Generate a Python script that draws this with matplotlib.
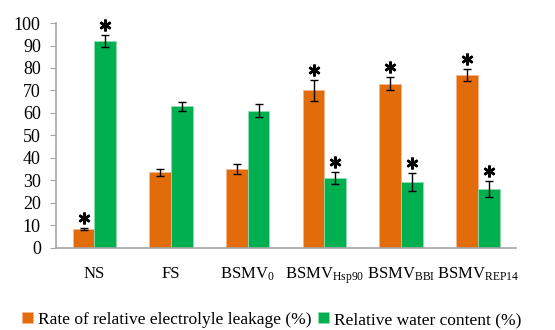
import numpy as np
import matplotlib
matplotlib.use("Agg")
import matplotlib.pyplot as plt
from matplotlib.transforms import offset_copy

plt.rcParams["font.family"] = "Liberation Serif"
plt.rcParams["mathtext.fontset"] = "custom"
plt.rcParams["mathtext.rm"] = "Liberation Serif"
plt.rcParams["mathtext.it"] = "Liberation Serif"

groups = ["NS", "FS", r"BSMV$_{\mathrm{0}}$", r"BSMV$_{\mathrm{Hsp90}}$",
          r"BSMV$_{\mathrm{BBI}}$", r"BSMV$_{\mathrm{REP14}}$"]
leakage = [8.3, 33.5, 35, 70, 73, 77]
leakage_err = [0.5, 1.5, 2.3, 4.7, 3.0, 2.7]
water = [92, 63, 61, 31, 29, 26]
water_err = [2.6, 2.0, 3.0, 2.8, 4.0, 3.5]
leakage_sig = [True, False, False, True, True, True]
water_sig = [True, False, False, True, True, True]

orange = "#E36C0A"
green = "#00B050"

fig = plt.figure(figsize=(5.55, 3.3), dpi=100)
ax = fig.add_axes([0.101, 0.25, 0.829, 0.68])

x = np.arange(len(groups))
w = 0.283
b1 = ax.bar(x - w / 2, leakage, w, color=orange, edgecolor="#F4B58A", lw=0.6,
            label="Rate of relative electrolyle leakage (%)", zorder=2)
b2 = ax.bar(x + w / 2, water, w, color=green, edgecolor="#8FDDB0", lw=0.6,
            label="Relative water content (%)", zorder=2)
ax.errorbar(x - w / 2, leakage, yerr=leakage_err, fmt="none", ecolor="black",
            elinewidth=1, capsize=3, capthick=1, zorder=3)
ax.errorbar(x + w / 2, water, yerr=water_err, fmt="none", ecolor="black",
            elinewidth=1, capsize=3, capthick=1, zorder=3)

# significance asterisks sitting just above the error caps
star_tr = offset_copy(ax.transData, fig=fig, x=0, y=10, units="dots")
for xs, vals, errs, sig in [(x - w / 2, leakage, leakage_err, leakage_sig),
                            (x + w / 2, water, water_err, water_sig)]:
    for xi, v, e, s in zip(xs, vals, errs, sig):
        if s:
            ax.plot(xi, v + e, marker=(6, 2, 0), ms=8.5, mew=1.8, color="black",
                    transform=star_tr, clip_on=False, zorder=4)

ax.set_xlim(-0.5, len(groups) - 0.5)
ax.set_ylim(0, 100)
ax.set_yticks(range(0, 101, 10))
ax.set_xticks(x)
ax.set_xticklabels(groups, fontsize=12)
ax.tick_params(axis="y", labelsize=13, length=4, color="#A6A6A6", pad=7)
ax.tick_params(axis="x", length=0, pad=13)
for sp in ["top", "right"]:
    ax.spines[sp].set_visible(False)
for sp in ["left", "bottom"]:
    ax.spines[sp].set_color("#A6A6A6")
    ax.spines[sp].set_linewidth(1.2)

fig.legend(handles=[b1, b2], loc="center", bbox_to_anchor=(0.49, 0.03), ncol=2,
           frameon=False, prop={"family": "Liberation Serif", "size": 12.5},
           handlelength=0.6, handleheight=0.6, handletextpad=0.3,
           columnspacing=0.4, borderpad=0, borderaxespad=0)

fig.savefig("out.png", dpi=100)
